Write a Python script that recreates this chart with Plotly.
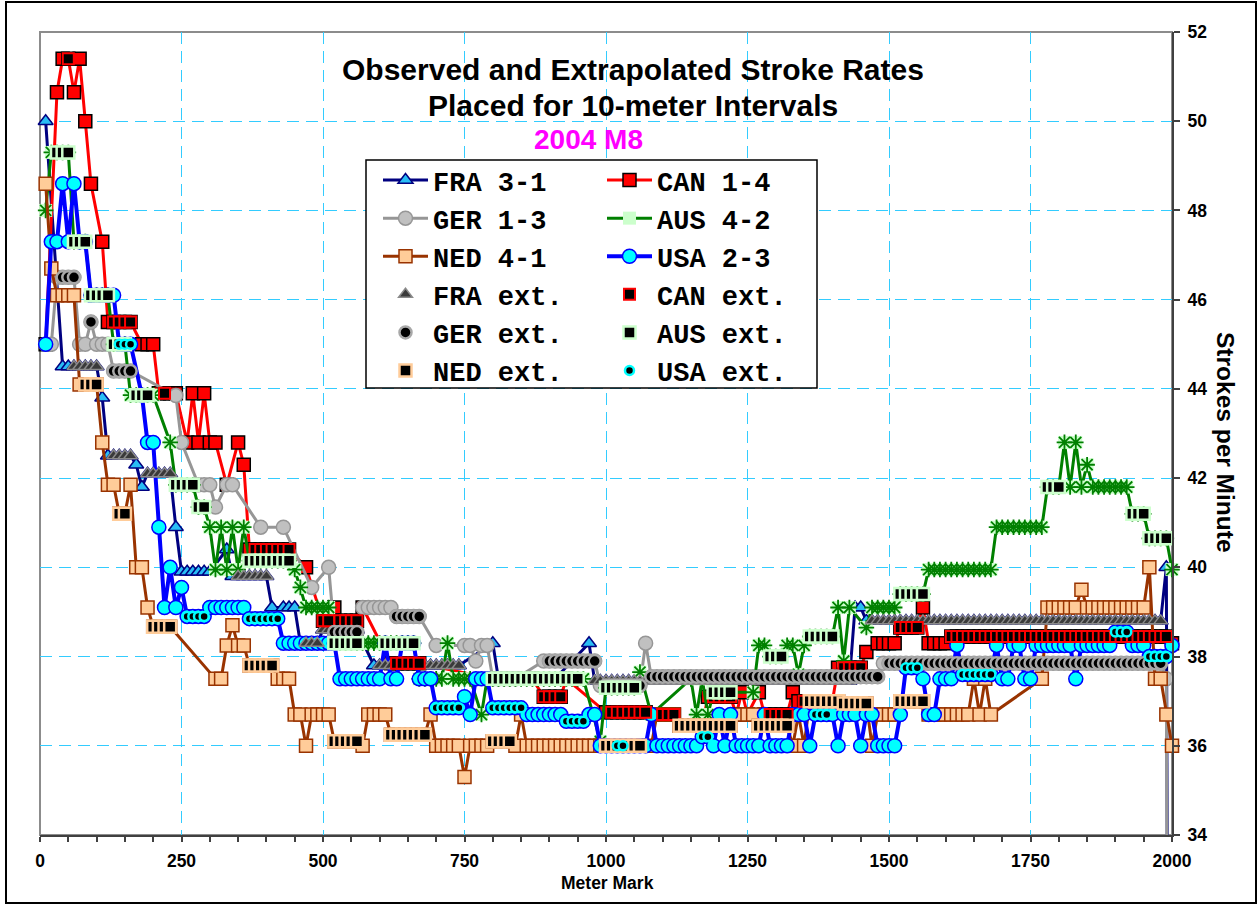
import plotly.graph_objects as go

# ---------------- data: runs of (first meter, last meter, strokes/min, kind) ----------------
# kind 'o' = observed, 'e' = extrapolated; points every 10 m inside a run
FRA_RUNS = [
    (10, 10, 50.0, 'o'),
    (40, 50, 44.5, 'o'), (60, 100, 44.5, 'e'),
    (110, 110, 43.8, 'o'),
    (120, 120, 42.5, 'o'), (130, 160, 42.5, 'e'),
    (170, 170, 42.3, 'o'),
    (180, 180, 41.8, 'o'), (190, 230, 42.1, 'e'),
    (240, 240, 40.9, 'o'),
    (250, 300, 39.9, 'o'),
    (330, 330, 40.4, 'o'),
    (340, 340, 39.8, 'o'), (350, 400, 39.8, 'e'),
    (410, 410, 39.1, 'o'), (430, 450, 39.1, 'o'),
    (460, 460, 38.3, 'o'), (470, 490, 38.3, 'e'),
    (500, 560, 38.6, 'e'),
    (590, 590, 37.8, 'o'), (600, 740, 37.8, 'e'),
    (800, 800, 38.3, 'o'),
    (810, 810, 37.5, 'o'), (820, 910, 37.5, 'e'),
    (970, 970, 38.3, 'o'),
    (980, 1430, 37.45, 'e'),
    (1440, 1450, 39.1, 'o'),
    (1460, 1460, 38.8, 'o'), (1470, 1980, 38.8, 'e'),
    (1990, 1990, 40.0, 'o'),
    (2000, 2000, 0.0, 'o'),
]

CAN_RUNS = [
    (10, 10, 45.0, 'o'), (30, 30, 50.65, 'o'), (40, 40, 51.4, 'o'), (50, 50, 51.4, 'e'),
    (60, 60, 50.65, 'o'), (70, 70, 51.4, 'o'), (80, 80, 50.0, 'o'), (90, 90, 48.6, 'o'),
    (110, 110, 47.3, 'o'), (120, 120, 45.5, 'o'), (130, 160, 45.5, 'e'),
    (180, 200, 45.0, 'o'),
    (210, 210, 43.9, 'o'), (220, 220, 43.9, 'e'), (230, 240, 43.9, 'o'),
    (260, 260, 42.8, 'o'), (270, 270, 43.9, 'o'), (280, 280, 42.8, 'o'), (290, 290, 43.9, 'o'),
    (300, 310, 42.8, 'o'), (330, 330, 41.85, 'o'), (350, 350, 42.8, 'o'), (360, 360, 42.3, 'o'),
    (370, 370, 40.4, 'o'), (380, 440, 40.4, 'e'),
    (470, 470, 40.0, 'o'),
    (500, 510, 38.8, 'e'), (520, 520, 39.1, 'o'), (530, 560, 38.8, 'e'), (570, 570, 39.1, 'o'),
    (620, 620, 37.85, 'o'), (630, 670, 37.85, 'e'),
    (800, 800, 37.5, 'o'), (810, 840, 37.5, 'e'),
    (870, 870, 37.5, 'o'), (890, 920, 37.1, 'e'), (930, 930, 37.5, 'o'),
    (1000, 1000, 36.75, 'o'), (1010, 1070, 36.75, 'e'),
    (1090, 1090, 36.7, 'o'), (1100, 1120, 36.7, 'e'), (1130, 1170, 36.45, 'e'),
    (1180, 1180, 37.1, 'o'), (1190, 1220, 37.1, 'e'),
    (1230, 1230, 36.7, 'o'), (1240, 1240, 37.2, 'o'), (1250, 1250, 36.7, 'o'),
    (1270, 1270, 37.2, 'o'), (1280, 1280, 36.7, 'o'), (1290, 1320, 36.7, 'e'),
    (1330, 1330, 37.2, 'o'), (1340, 1340, 37.0, 'o'), (1350, 1400, 37.0, 'e'),
    (1410, 1410, 37.75, 'o'), (1420, 1450, 37.75, 'e'), (1460, 1460, 38.1, 'o'),
    (1480, 1510, 38.3, 'o'), (1520, 1550, 38.65, 'e'), (1560, 1560, 39.1, 'o'),
    (1570, 1600, 38.3, 'o'), (1610, 1990, 38.45, 'e'), (2000, 2000, 38.3, 'o'),
]

GER_RUNS = [
    (10, 20, 45.0, 'o'), (30, 30, 46.5, 'o'), (40, 60, 46.5, 'e'),
    (70, 80, 45.0, 'o'), (90, 90, 45.5, 'e'), (100, 120, 45.0, 'o'), (130, 160, 44.4, 'e'),
    (240, 240, 43.85, 'o'), (250, 250, 42.8, 'o'),
    (280, 300, 41.85, 'o'), (310, 310, 41.35, 'o'), (330, 340, 41.85, 'o'),
    (390, 390, 40.9, 'o'), (430, 430, 40.9, 'o'),
    (480, 480, 39.55, 'o'), (510, 510, 40.0, 'o'), (520, 560, 38.55, 'e'),
    (570, 620, 39.1, 'o'), (630, 670, 38.9, 'e'),
    (700, 700, 38.25, 'o'), (750, 760, 38.25, 'o'), (770, 770, 37.9, 'o'), (780, 790, 38.25, 'o'),
    (800, 840, 37.5, 'e'),
    (890, 890, 37.9, 'o'), (900, 980, 37.9, 'e'),
    (990, 990, 37.35, 'o'), (1000, 1060, 37.35, 'e'),
    (1070, 1070, 38.3, 'o'), (1080, 1480, 37.55, 'e'),
    (1490, 1490, 37.85, 'o'), (1500, 1980, 37.85, 'e'),
    (1990, 1990, 37.5, 'o'), (2000, 2000, 0.0, 'o'),
]

AUS_RUNS = [
    (10, 10, 48.0, 'o'), (20, 20, 49.3, 'o'), (30, 50, 49.3, 'e'),
    (60, 80, 47.3, 'e'), (90, 120, 46.1, 'e'), (130, 150, 45.0, 'e'),
    (160, 160, 43.86, 'o'), (170, 190, 43.86, 'e'), (200, 200, 43.86, 'o'),
    (230, 230, 42.8, 'o'), (240, 270, 41.85, 'e'), (280, 290, 41.35, 'e'),
    (300, 300, 40.9, 'o'), (310, 310, 39.95, 'o'), (320, 320, 40.9, 'o'), (330, 330, 39.95, 'o'),
    (340, 340, 40.9, 'o'), (350, 350, 39.95, 'o'), (360, 360, 40.9, 'o'),
    (370, 440, 40.15, 'e'),
    (450, 450, 39.95, 'o'), (460, 460, 39.55, 'o'), (470, 510, 39.1, 'o'),
    (520, 560, 38.3, 'e'), (570, 600, 38.3, 'o'), (610, 660, 38.3, 'e'),
    (670, 710, 37.5, 'o'), (720, 720, 38.3, 'o'), (730, 760, 37.5, 'o'),
    (780, 780, 36.7, 'o'), (790, 790, 37.5, 'o'), (800, 950, 37.5, 'e'), (960, 960, 37.5, 'o'),
    (990, 990, 36.1, 'o'), (1000, 1050, 37.3, 'e'), (1060, 1060, 37.65, 'o'),
    (1080, 1080, 36.7, 'o'), (1150, 1150, 37.5, 'o'),
    (1160, 1160, 36.7, 'o'), (1170, 1170, 37.5, 'o'), (1180, 1180, 36.7, 'o'), (1190, 1220, 37.2, 'e'),
    (1260, 1260, 37.2, 'o'), (1270, 1280, 38.25, 'o'), (1290, 1310, 38.0, 'e'),
    (1320, 1330, 38.25, 'o'), (1340, 1340, 37.6, 'o'), (1350, 1350, 38.25, 'o'),
    (1360, 1400, 38.45, 'e'), (1410, 1410, 39.1, 'o'), (1420, 1420, 37.9, 'o'), (1430, 1430, 39.1, 'o'),
    (1460, 1460, 38.65, 'o'), (1470, 1510, 39.1, 'o'), (1520, 1560, 39.4, 'e'),
    (1570, 1680, 39.95, 'o'), (1690, 1770, 40.9, 'o'), (1780, 1800, 41.8, 'e'),
    (1810, 1810, 42.8, 'o'), (1820, 1820, 41.8, 'o'), (1830, 1830, 42.8, 'o'),
    (1840, 1840, 41.8, 'o'), (1850, 1850, 42.3, 'o'),
    (1860, 1920, 41.8, 'o'), (1930, 1950, 41.2, 'e'), (1960, 1990, 40.65, 'e'),
    (2000, 2000, 39.95, 'o'),
]

NED_RUNS = [
    (10, 10, 48.6, 'o'), (20, 20, 46.7, 'o'), (30, 60, 46.1, 'o'),
    (70, 70, 44.1, 'o'), (80, 100, 44.1, 'e'),
    (110, 110, 42.8, 'o'), (120, 130, 41.85, 'o'), (140, 150, 41.2, 'e'), (160, 160, 41.85, 'o'),
    (170, 180, 40.0, 'o'), (190, 190, 39.1, 'o'), (200, 230, 38.67, 'e'),
    (310, 320, 37.5, 'o'), (330, 330, 38.25, 'o'), (340, 340, 38.7, 'o'), (350, 360, 38.25, 'o'),
    (370, 410, 37.8, 'e'),
    (420, 440, 37.5, 'o'), (450, 460, 36.7, 'o'), (470, 470, 36.0, 'o'), (480, 510, 36.7, 'o'),
    (520, 560, 36.1, 'e'),
    (570, 570, 36.0, 'o'), (580, 610, 36.7, 'o'), (620, 680, 36.25, 'e'), (690, 690, 36.7, 'o'),
    (700, 740, 36.0, 'o'), (750, 750, 35.3, 'o'), (760, 790, 36.0, 'o'), (800, 830, 36.1, 'e'),
    (840, 840, 36.0, 'o'), (850, 850, 36.7, 'o'), (860, 990, 36.0, 'o'), (1000, 1060, 36.0, 'e'),
    (1080, 1080, 36.0, 'o'), (1090, 1120, 36.7, 'o'), (1130, 1220, 36.45, 'e'),
    (1240, 1260, 36.7, 'o'), (1270, 1320, 36.45, 'e'),
    (1330, 1330, 36.0, 'o'), (1340, 1340, 36.7, 'o'), (1350, 1350, 36.0, 'o'),
    (1360, 1410, 37.0, 'e'), (1420, 1460, 36.95, 'e'),
    (1470, 1470, 36.0, 'o'), (1480, 1510, 36.7, 'o'), (1520, 1560, 37.0, 'e'),
    (1570, 1640, 36.7, 'o'), (1650, 1650, 37.5, 'o'), (1660, 1660, 36.7, 'o'),
    (1670, 1670, 37.5, 'o'), (1680, 1680, 36.7, 'o'),
    (1770, 1770, 37.5, 'o'), (1780, 1830, 39.1, 'o'), (1840, 1840, 39.5, 'o'), (1850, 1950, 39.1, 'o'),
    (1960, 1960, 40.0, 'o'), (1970, 1980, 37.5, 'o'), (1990, 1990, 36.7, 'o'), (2000, 2000, 36.0, 'o'),
]

USA_RUNS = [
    (10, 10, 45.0, 'o'), (20, 30, 47.3, 'o'), (40, 40, 48.6, 'o'), (50, 50, 47.3, 'o'),
    (60, 60, 48.6, 'o'), (70, 80, 47.3, 'o'),
    (90, 130, 46.1, 'o'), (140, 160, 45.0, 'e'),
    (180, 180, 43.86, 'o'), (190, 200, 42.8, 'o'), (210, 210, 40.9, 'o'), (220, 220, 39.1, 'o'),
    (230, 230, 40.0, 'o'), (240, 240, 39.1, 'o'), (250, 250, 39.55, 'o'),
    (260, 290, 38.9, 'e'), (300, 360, 39.1, 'o'), (370, 420, 38.85, 'e'),
    (430, 520, 38.3, 'o'), (530, 600, 37.5, 'o'), (610, 610, 38.3, 'o'), (620, 630, 37.5, 'o'),
    (640, 660, 38.3, 'o'), (670, 690, 37.5, 'o'),
    (700, 740, 36.85, 'e'), (750, 750, 37.1, 'o'), (760, 760, 36.7, 'o'), (770, 790, 37.5, 'o'),
    (800, 850, 36.85, 'e'),
    (860, 920, 36.7, 'o'), (930, 960, 36.55, 'e'), (970, 980, 36.7, 'o'),
    (990, 1010, 36.0, 'o'), (1020, 1030, 36.0, 'e'), (1040, 1070, 36.0, 'o'), (1080, 1080, 36.7, 'o'),
    (1090, 1160, 36.0, 'o'), (1170, 1180, 36.2, 'e'), (1190, 1190, 36.0, 'o'), (1200, 1200, 36.7, 'o'),
    (1210, 1210, 36.0, 'o'), (1220, 1220, 36.7, 'o'), (1230, 1270, 36.0, 'o'), (1280, 1280, 36.7, 'o'),
    (1290, 1320, 36.0, 'o'), (1330, 1350, 36.7, 'o'), (1360, 1360, 36.0, 'o'), (1370, 1390, 36.7, 'e'),
    (1400, 1400, 36.7, 'o'), (1410, 1410, 36.0, 'o'), (1420, 1440, 36.7, 'o'), (1450, 1450, 36.0, 'o'),
    (1460, 1470, 36.7, 'o'), (1480, 1510, 36.0, 'o'), (1520, 1520, 36.7, 'o'), (1530, 1550, 37.75, 'e'),
    (1560, 1560, 37.5, 'o'), (1570, 1580, 36.7, 'o'), (1590, 1610, 37.5, 'o'), (1620, 1620, 38.25, 'o'),
    (1630, 1680, 37.6, 'e'), (1690, 1690, 38.25, 'o'), (1700, 1710, 37.5, 'o'), (1720, 1730, 38.25, 'o'),
    (1740, 1750, 37.5, 'o'), (1760, 1820, 38.25, 'o'), (1830, 1830, 37.5, 'o'), (1840, 1890, 38.25, 'o'),
    (1900, 1920, 38.55, 'e'), (1930, 1950, 38.25, 'o'), (1960, 1990, 38.0, 'e'), (2000, 2000, 38.25, 'o'),
]

CREWS = ['FRA', 'CAN', 'GER', 'AUS', 'NED', 'USA']
CREW_LABELS = ['FRA 3-1', 'CAN 1-4', 'GER 1-3', 'AUS 4-2', 'NED 4-1', 'USA 2-3']
EXT_LABELS = ['FRA ext.', 'CAN ext.', 'GER ext.', 'AUS ext.', 'NED ext.', 'USA ext.']
RUNS = [FRA_RUNS, CAN_RUNS, GER_RUNS, AUS_RUNS, NED_RUNS, USA_RUNS]

TITLE_1 = 'Observed and Extrapolated Stroke Rates'
TITLE_2 = 'Placed for 10-meter Intervals'
SUBTITLE = '2004 M8'
X_TITLE = 'Meter Mark'
Y_TITLE = 'Strokes per Minute'


def expand(runs):
    xs, ys, ext = [], [], []
    for x0, x1, v, kind in runs:
        for x in range(x0, x1 + 1, 10):
            xs.append(x)
            ys.append(v)
            ext.append(kind == 'e')
    return xs, ys, ext


# ---------------- styles ----------------
OBS_STYLE = {
    'FRA': dict(lc='#000080', lw=3, sym='triangle-up', size=13, fill='#29BDF5', edge='#000080', ew=1.5),
    'CAN': dict(lc='#FF0000', lw=3, sym='square', size=13, fill='#FF0000', edge='#000000', ew=1.5),
    'GER': dict(lc='#969696', lw=3, sym='circle', size=14, fill='#C0C0C0', edge='#969696', ew=1.5),
    'AUS': dict(lc='#008000', lw=3, sym='square', size=13, fill='#CCFFCC', edge='#CCFFCC', ew=0),
    'NED': dict(lc='#993300', lw=3, sym='square', size=13, fill='#FFCC99', edge='#993300', ew=1.5),
    'USA': dict(lc='#0000FF', lw=4, sym='circle', size=14, fill='#00FFFF', edge='#0000FF', ew=1.5),
}
EXT_STYLE = {
    'FRA': dict(sym='triangle-up', size=12, fill='#3A3A3A', edge='#8A8A8A', ew=1.5),
    'CAN': dict(sym='square', size=11, fill='#000000', edge='#FF0000', ew=2),
    'GER': dict(sym='circle', size=12, fill='#000000', edge='#A8A8A8', ew=2.5),
    'AUS': dict(sym='square', size=12, fill='#000000', edge='#CCFFCC', ew=2.5),
    'NED': dict(sym='square', size=12, fill='#000000', edge='#FFCC99', ew=2.5),
    'USA': dict(sym='circle', size=9, fill='#000000', edge='#00FFFF', ew=2.5),
}
LEFT_COL = ['FRA', 'GER', 'NED']
RIGHT_COL = ['CAN', 'AUS', 'USA']

fig = go.Figure()
data = {c: expand(r) for c, r in zip(CREWS, RUNS)}

# observed series (lines through all placed points)
for c, label in zip(CREWS, CREW_LABELS):
    xs, ys, ext = data[c]
    s = OBS_STYLE[c]
    leg = 'legend' if c in LEFT_COL else 'legend2'
    rank = (LEFT_COL.index(c) + 1) if c in LEFT_COL else (RIGHT_COL.index(c) + 1)
    fig.add_trace(go.Scatter(
        x=xs, y=ys, name=label, mode='lines+markers', legend=leg, legendrank=rank,
        line=dict(color=s['lc'], width=s['lw']),
        marker=dict(symbol=s['sym'], size=s['size'], color=s['fill'],
                    line=dict(color=s['edge'], width=s['ew'])),
        cliponaxis=False, hoverinfo='x+y+name'))
    if c == 'AUS':
        fig.add_trace(go.Scatter(
            x=xs, y=ys, mode='markers', showlegend=False,
            marker=dict(symbol='asterisk-open', size=13, color='#008000',
                        line=dict(color='#008000', width=1.8)),
            cliponaxis=False, hoverinfo='skip'))

# extrapolated points
for c, label in zip(CREWS, EXT_LABELS):
    xs, ys, ext = data[c]
    ex = [x for x, e in zip(xs, ext) if e]
    ey = [y for y, e in zip(ys, ext) if e]
    s = EXT_STYLE[c]
    leg = 'legend' if c in LEFT_COL else 'legend2'
    rank = (LEFT_COL.index(c) + 4) if c in LEFT_COL else (RIGHT_COL.index(c) + 4)
    fig.add_trace(go.Scatter(
        x=ex, y=ey, name=label, mode='markers', legend=leg, legendrank=rank,
        marker=dict(symbol=s['sym'], size=s['size'], color=s['fill'],
                    line=dict(color=s['edge'], width=s['ew'])),
        cliponaxis=False, hoverinfo='x+y+name'))

# ---------------- layout ----------------
L, R, T, B = 40, 86, 32, 70
W, H = 1258, 905
PW, PH = W - L - R, H - T - B


def px_x(p):
    return (p - L) / PW


def px_y(p):
    return (H - B - p) / PH


GRID = '#33CCFF'
AXIS = '#404040'
TICKFONT = dict(family='Liberation Sans, Arial', size=17.5, color='black', weight='bold')
LEGFONT = dict(family='Liberation Mono, Courier New', size=27, color='black', weight='bold')

fig.update_layout(
    width=W, height=H,
    margin=dict(l=L, r=R, t=T, b=B),
    paper_bgcolor='white', plot_bgcolor='white',
    showlegend=True,
    xaxis=dict(range=[0, 2000], tick0=0, dtick=250, showgrid=True, gridcolor=GRID, gridwidth=1,
               griddash='12px,7px', zeroline=False, showline=True, linecolor=AXIS, linewidth=2,
               ticks='outside', ticklen=5, tickwidth=1.5, tickcolor=AXIS,
               minor=dict(dtick=50, ticks='outside', ticklen=5, tickwidth=1.5, tickcolor=AXIS, showgrid=False),
               tickfont=TICKFONT, ticklabelstandoff=4, fixedrange=True),
    yaxis=dict(range=[34, 52], tick0=34, dtick=2, side='right', showgrid=True, gridcolor=GRID, gridwidth=1,
               griddash='12px,7px', zeroline=False, showline=True, linecolor=AXIS, linewidth=2,
               ticks='outside', ticklen=6, tickwidth=1.5, tickcolor=AXIS,
               tickfont=TICKFONT, ticklabelstandoff=4, fixedrange=True),
    legend=dict(x=px_x(378), y=px_y(156), xanchor='left', yanchor='top', bgcolor='rgba(0,0,0,0)',
                borderwidth=0, font=LEGFONT, itemwidth=45, traceorder='normal', tracegroupgap=0),
    legend2=dict(x=px_x(602), y=px_y(156), xanchor='left', yanchor='top', bgcolor='rgba(0,0,0,0)',
                 borderwidth=0, font=LEGFONT, itemwidth=45, traceorder='normal', tracegroupgap=0),
    shapes=[
        # plot frame (top/left light grey)
        dict(type='rect', xref='paper', yref='paper', x0=0, x1=1, y0=0, y1=1,
             line=dict(color='#8C8C8C', width=2), layer='below'),
        # legend box
        dict(type='rect', xref='paper', yref='paper', x0=px_x(366), x1=px_x(817), y0=px_y(388), y1=px_y(160),
             line=dict(color='black', width=1.5), fillcolor='white', layer='above'),
        # outer chart frame
        dict(type='rect', xref='paper', yref='paper', x0=px_x(6), x1=px_x(1256), y0=px_y(903), y1=px_y(2),
             line=dict(color='black', width=2), layer='above'),
    ],
    annotations=[
        dict(text='<b>%s</b>' % TITLE_1, xref='paper', yref='paper', x=px_x(632.5), y=px_y(70),
             xanchor='center', yanchor='middle', showarrow=False,
             font=dict(family='Liberation Sans, Arial', size=30, color='black')),
        dict(text='<b>%s</b>' % TITLE_2, xref='paper', yref='paper', x=px_x(632.5), y=px_y(105),
             xanchor='center', yanchor='middle', showarrow=False,
             font=dict(family='Liberation Sans, Arial', size=30, color='black')),
        dict(text='<b>%s</b>' % SUBTITLE, xref='paper', yref='paper', x=px_x(588.5), y=px_y(139),
             xanchor='center', yanchor='middle', showarrow=False,
             font=dict(family='Liberation Sans, Arial', size=28, color='#FF00FF')),
        dict(text='<b>%s</b>' % X_TITLE, xref='paper', yref='paper', x=px_x(607), y=px_y(883),
             xanchor='center', yanchor='middle', showarrow=False,
             font=dict(family='Liberation Sans, Arial', size=17.5, color='black')),
        dict(text='<b>%s</b>' % Y_TITLE, xref='paper', yref='paper', x=px_x(1226), y=px_y(443),
             xanchor='center', yanchor='middle', showarrow=False, textangle=90,
             font=dict(family='Liberation Sans, Arial', size=24.5, color='black')),
    ],
)

fig.write_html('out.html', config={'displayModeBar': False})
